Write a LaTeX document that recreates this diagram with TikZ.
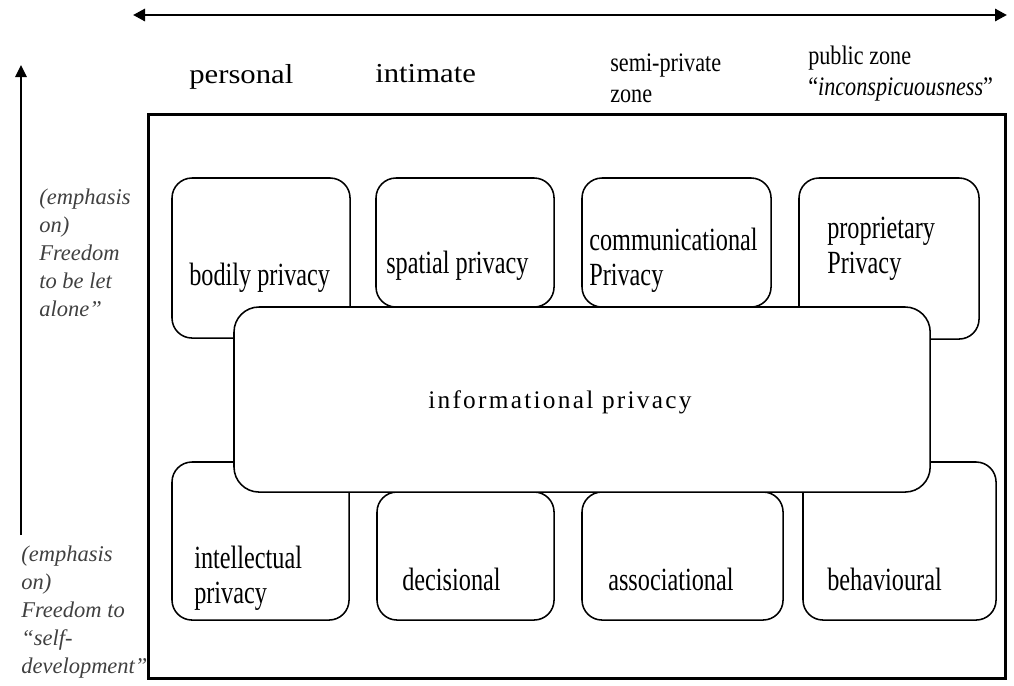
\documentclass[tikz,border=0pt]{standalone}
\usepackage{fontspec}
\setmainfont{Liberation Serif}
\newfontfamily\boxfont{Liberation Serif}[FakeStretch=0.75]
\newfontfamily\zonefont{Liberation Serif}[FakeStretch=0.83]
\newfontfamily\wideserif{Liberation Serif}[FakeStretch=1.12]
\newfontfamily\spacedfont{Liberation Serif}[LetterSpace=9]
\usetikzlibrary{positioning,arrows.meta}

\tikzset{
  privbox/.style={draw, line width=1.1pt, rounded corners=0.5cm, fill=white,
    inner sep=0pt, outer sep=0pt, anchor=north west},
  toplabel/.style={font=\wideserif\fontsize{19.5}{25}\selectfont, anchor=base west, inner sep=0pt},
  zonelabel/.style={font=\zonefont\fontsize{19}{22}\selectfont, align=left,
    anchor=base west, inner sep=0pt},
  boxlabel/.style={font=\boxfont\fontsize{23}{24.5}\selectfont, align=left,
    anchor=base west, inner sep=0pt},
  sidelabel/.style={font=\itshape\fontsize{16}{19.9}\selectfont, text=black!75,
    align=left, anchor=base west, inner sep=0pt},
}

\begin{document}
\begin{tikzpicture}[x=0.025cm, y=-0.025cm]
    \useasboundingbox (0,0) rectangle (1014,685);

    % Assen
    \coordinate (hleft) at (133,15);
    \coordinate (hright) at (1007,15);
    \draw[{Triangle[length=0.3cm,width=0.3cm]}-{Triangle[length=0.3cm,width=0.3cm]}, line width=2.1pt]
        (hleft) -- (hright);
    \coordinate (vbottom) at (21,535);
    \coordinate (vtop) at (21,65);
    \draw[-{Triangle[length=0.3cm,width=0.28cm]}, line width=1.6pt] (vbottom) -- (vtop);

    % Kader
    \node[draw, line width=1.8pt, minimum width=21.425cm, minimum height=14.1cm,
        inner sep=0pt, anchor=north west] (frame) at (147,113) {};

    % Bovenste rij
    \node[privbox, minimum width=4.45cm, minimum height=4cm] (bodily) at (172,178) {};
    \node[privbox, minimum width=4.45cm, minimum height=3.225cm] (spatial) at (376,178) {};
    \node[privbox, minimum width=4.725cm, minimum height=3.225cm] (comm) at (582,178) {};
    \node[privbox, minimum width=4.5cm, minimum height=4.025cm] (propr) at (799,178) {};

    % Onderste rij
    \node[privbox, minimum width=4.425cm, minimum height=3.95cm] (intel) at (172,462) {};
    \node[privbox, minimum width=4.425cm, minimum height=3.2cm] (decis) at (377,492) {};
    \node[privbox, minimum width=5.025cm, minimum height=3.2cm] (assoc) at (582,492) {};
    \node[privbox, minimum width=4.825cm, minimum height=3.95cm] (behav) at (803,462) {};

    % Midden
    \node[privbox, rounded corners=0.625cm, minimum width=17.4cm, minimum height=4.625cm]
        (inform) at (234,307) {};

    % Zones (base = laatste regel)
    \node[toplabel] (personal) at (189,83) {personal};
    \node[toplabel] (intimate) at (375,82) {intimate};
    \node[zonelabel] (semipriv) at (610,102) {semi-private\\zone};
    \node[zonelabel] (public) at (808,95) {public zone\\“\textit{inconspicuousness}”};

    % Teksten in de vakken
    \node[boxlabel] (bodilytxt) at (189,285) {bodily privacy};
    \node[boxlabel] (spatialtxt) at (386,273) {spatial privacy};
    \node[boxlabel] (commtxt) at (589,285) {communicational\\Privacy};
    \node[boxlabel] (proprtxt) at (827,273) {proprietary\\Privacy};
    \node[font=\spacedfont\fontsize{18}{22}\selectfont, anchor=base west, inner sep=0pt]
        (informtxt) at (428,408) {informational privacy};
    \node[boxlabel] (inteltxt) at (194,603) {intellectual\\privacy};
    \node[boxlabel] (decistxt) at (402,590) {decisional};
    \node[boxlabel] (assoctxt) at (608,590) {associational};
    \node[boxlabel] (behavtxt) at (827,590) {behavioural};

    % Links
    \node[sidelabel] (letalone) at (39,316) {(emphasis\\on)\\Freedom\\to be let\\alone”};
    \node[sidelabel] (selfdev) at (21,673) {(emphasis\\on)\\Freedom to\\“self-\\development”};
\end{tikzpicture}
\end{document}
